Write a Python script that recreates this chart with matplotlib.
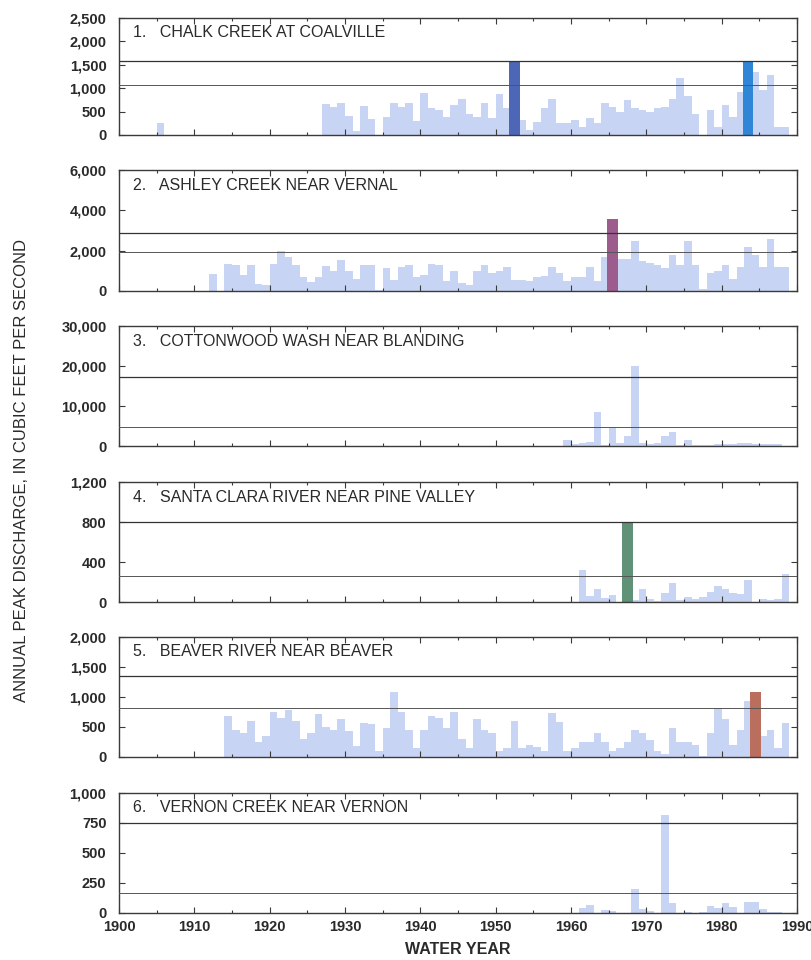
import matplotlib
matplotlib.use("Agg")
import matplotlib.pyplot as plt
from matplotlib.ticker import FuncFormatter, MultipleLocator

plt.rcParams['font.family'] = ['Liberation Sans', 'DejaVu Sans']

# ---- data ----
titles = ["1.   CHALK CREEK AT COALVILLE",
          "2.   ASHLEY CREEK NEAR VERNAL",
          "3.   COTTONWOOD WASH NEAR BLANDING",
          "4.   SANTA CLARA RIVER NEAR PINE VALLEY",
          "5.   BEAVER RIVER NEAR BEAVER",
          "6.   VERNON CREEK NEAR VERNON"]

chalk_years = [1905] + list(range(1927, 1989))
chalk_peaks = [250,
               655, 600, 690, 400, 80, 610, 350, 0, 380, 680,
               600, 690, 300, 890, 580, 530, 390, 640, 770, 440,
               390, 675, 355, 870, 570, 1580, 320, 100, 280, 570,
               770, 250, 250, 330, 180, 355, 250, 675, 600, 500,
               745, 570, 530, 500, 570, 590, 770, 1210, 840, 440,
               0, 530, 180, 640, 390, 920, 1580, 1350, 960, 1280,
               180, 180]

ashley_years = list(range(1912, 1989))
ashley_peaks = [850, 0, 1330, 1300, 800, 1300, 350, 300, 1350, 1970,
                1700, 1300, 700, 450, 700, 1220, 1000, 1550, 1000, 600,
                1300, 1300, 50, 1150, 550, 1200, 1300, 700, 800, 1350,
                1300, 500, 1000, 400, 300, 1000, 1280, 900, 1000, 1200,
                550, 550, 500, 700, 750, 1200, 900, 500, 700, 700,
                1200, 500, 1700, 3570, 1600, 1600, 2500, 1500, 1400, 1300,
                1150, 1800, 1300, 2500, 1300, 100, 900, 1000, 1300, 600,
                1200, 2200, 1800, 1200, 2600, 1200, 1200]

cotton_years = list(range(1959, 1988))
cotton_peaks = [1500, 600, 700, 900, 8400, 300, 4400, 700, 2500, 20000,
                800, 500, 800, 2500, 3500, 300, 1400, 300, 200, 300,
                400, 600, 500, 700, 700, 600, 500, 400, 400]

clara_years = list(range(1961, 1989))
clara_peaks = [320, 60, 130, 40, 70, 0, 800, 20, 130, 30,
               10, 90, 190, 20, 50, 30, 50, 100, 160, 130,
               90, 80, 220, 0, 30, 20, 30, 280]

beaver_years = list(range(1914, 1989))
beaver_peaks = [690, 450, 400, 600, 250, 350, 750, 650, 790, 600,
                300, 400, 720, 500, 450, 630, 430, 180, 560, 550,
                100, 480, 1090, 750, 450, 150, 450, 680, 650, 480,
                750, 300, 150, 640, 450, 400, 100, 150, 600, 150,
                200, 170, 100, 730, 580, 100, 150, 250, 250, 400,
                250, 100, 150, 250, 450, 400, 280, 100, 50, 480,
                250, 250, 200, 20, 400, 820, 630, 200, 450, 930,
                1080, 350, 450, 150, 560]

vernon_years = list(range(1961, 1988))
vernon_peaks = [40, 65, 0, 25, 20, 0, 0, 200, 30, 20,
                0, 820, 80, 0, 5, 0, 10, 60, 40, 80,
                50, 0, 90, 90, 30, 10, 5]

all_years = [chalk_years, ashley_years, cotton_years, clara_years, beaver_years, vernon_years]
all_peaks = [chalk_peaks, ashley_peaks, cotton_peaks, clara_peaks, beaver_peaks, vernon_peaks]

# horizontal reference lines (upper, lower)
upper_lines = [1580, 2870, 17300, 800, 1350, 750]
lower_lines = [1060, 1920, 4700, 265, 810, 170]

y_max = [2500, 6000, 30000, 1200, 2000, 1000]
y_step = [500, 2000, 10000, 400, 500, 250]

# highlighted record peaks: (panel, year, color)
highlights = [(0, 1952, "#4d66b5"), (0, 1983, "#2f86d6"),
              (1, 1965, "#9c5c8e"), (3, 1967, "#5f9277"),
              (4, 1984, "#b96e5e")]

bar_color = "#c8d4f4"
frame_color = "#3a3a3a"
text_color = "#2a2a2a"

W, H = 812, 960
fig = plt.figure(figsize=(W / 100, H / 100), dpi=100)

# panel pixel boxes (top, bottom)
panel_px = [(18, 135), (170, 291), (326, 446), (482, 602), (637, 757), (793, 913)]
left_px, right_px = 119, 797

for i in range(6):
    top, bot = panel_px[i]
    ax = fig.add_axes([left_px / W, 1 - bot / H, (right_px - left_px) / W, (bot - top) / H])
    ax.bar(all_years[i], all_peaks[i], width=1.0, align='edge', color=bar_color,
           edgecolor='none', zorder=1)
    for p, yr, c in highlights:
        if p == i:
            ax.bar(yr + 0.5, all_peaks[i][all_years[i].index(yr)], width=1.4,
                   color=c, edgecolor='none', zorder=2)
    ax.axhline(upper_lines[i], color="#333333", lw=0.9, zorder=3)
    ax.axhline(lower_lines[i], color="#555555", lw=0.7, zorder=3)

    ax.set_xlim(1900, 1990)
    ax.set_ylim(0, y_max[i])
    ax.xaxis.set_major_locator(MultipleLocator(10))
    ax.xaxis.set_minor_locator(MultipleLocator(5))
    ax.yaxis.set_major_locator(MultipleLocator(y_step[i]))
    ax.yaxis.set_major_formatter(FuncFormatter(lambda v, pos: "{:,.0f}".format(v)))
    ax.tick_params(which='both', direction='in', top=True, right=True,
                   colors=frame_color, labelsize=10.5, labelcolor=text_color)
    ax.tick_params(which='major', length=4, width=0.8)
    ax.tick_params(which='minor', length=2.5, width=0.8)
    ax.tick_params(axis='y', pad=9)
    ax.tick_params(axis='x', pad=5)
    if i < 5:
        ax.tick_params(axis='x', labelbottom=False)
    for s in ax.spines.values():
        s.set_color(frame_color)
        s.set_linewidth(1.0)
    for lab in ax.get_yticklabels() + ax.get_xticklabels():
        lab.set_fontweight('bold')
    ax.text(0.02, 0.875, titles[i], transform=ax.transAxes, va='center', ha='left',
            fontsize=11.5, color=text_color)

fig.text(22 / W, 1 - 470 / H, "ANNUAL PEAK DISCHARGE, IN CUBIC FEET PER SECOND",
         rotation=90, ha='center', va='center', fontsize=12, color=text_color)
fig.text(458 / W, 1 - 950 / H, "WATER YEAR", ha='center', va='center',
         fontsize=11.5, fontweight='bold', color=text_color)

fig.savefig("out.png", dpi=100)
